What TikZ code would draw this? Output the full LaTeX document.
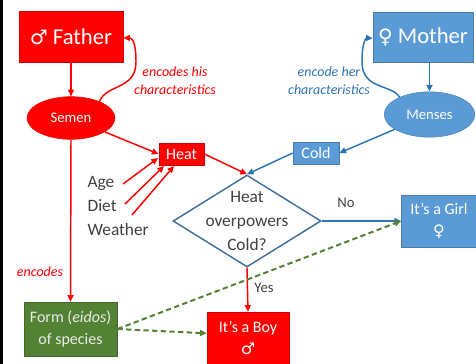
\documentclass[tikz,border=0pt]{standalone}
\usepackage{fontspec}
\setmainfont{Carlito}
\newfontfamily\symfont{DejaVu Sans}
\usetikzlibrary{arrows.meta,shapes.geometric,calc}
\definecolor{fred}{HTML}{FF0000}
\definecolor{mblue}{HTML}{5B9BD5}
\definecolor{dblue}{HTML}{2E75B6}
\definecolor{dborder}{HTML}{41719C}
\definecolor{fgreen}{HTML}{548235}
\definecolor{txt}{HTML}{404040}
\tikzset{
  tip/.style={-{Triangle[length=5pt,width=4.5pt]}},
  redbox/.style={draw=fred!80!black, line width=0.4pt, fill=fred, text=white, inner sep=0pt, align=center},
  bluebox/.style={draw=mblue!80!black, line width=0.4pt, fill=mblue, text=white, inner sep=0pt, align=center},
  greenbox/.style={draw=fgreen!80!black, line width=0.4pt, fill=fgreen, text=white!92!black, inner sep=0pt, align=center},
  redline/.style={tip, draw=fred, line width=1.1pt},
  blueline/.style={tip, draw=dblue, line width=1.1pt},
  greenline/.style={tip, draw=fgreen, line width=1.5pt, dash pattern=on 4pt off 2.5pt},
  lab/.style={text=txt, inner sep=1pt},
}
\begin{document}
\begin{tikzpicture}[x=0.75pt,y=-0.75pt]
\useasboundingbox (0,0) rectangle (476,364);
\clip (0,0) rectangle (476,364);
\fill[black] (0,0) rectangle (3,364);
% nodes
\node[redbox, minimum width=78pt, minimum height=38pt, font=\fontsize{17}{20}\selectfont] (father) at (71,36.5) {{\symfont\fontsize{15}{18}\selectfont ♂} Father};
\node[bluebox, minimum width=75pt, minimum height=37.5pt, font=\fontsize{17}{20}\selectfont] (mother) at (423,37) {{\symfont\fontsize{15}{18}\selectfont ♀} Mother};
\node[ellipse, fill=fred, draw=fred, text=white, minimum width=66pt, minimum height=32pt, inner sep=0pt, font=\fontsize{11}{13}\selectfont] (semen) at (71,118) {Semen};
\node[ellipse, fill=mblue, draw=mblue!85!black, text=white, minimum width=68pt, minimum height=34pt, inner sep=0pt, font=\fontsize{11}{13}\selectfont] (menses) at (429.5,114.5) {Menses};
\node[redbox, minimum width=34pt, minimum height=16.5pt, font=\fontsize{12}{14}\selectfont] (heat) at (181.5,154) {Heat};
\node[bluebox, minimum width=34.5pt, minimum height=16.5pt, font=\fontsize{12}{14}\selectfont] (cold) at (316,153) {Cold};
\node[diamond, draw=dborder, line width=1.1pt, fill=white, minimum width=111pt, minimum height=69pt, inner sep=0pt] (dec) at (247,221) {};
\node[text=txt, align=center, inner sep=0pt, font=\fontsize{13}{18}\selectfont] (dectext) at (247,221) {Heat\\overpowers\\Cold?};
\node[bluebox, minimum width=56.5pt, minimum height=39pt, font=\fontsize{12}{17}\selectfont] (girl) at (439,221) {It’s a Girl\\{\symfont\fontsize{12}{14}\selectfont ♀}};
\node[redbox, minimum width=61.5pt, minimum height=39pt, font=\fontsize{12}{17}\selectfont] (boy) at (248,338) {It’s a Boy\\{\symfont\fontsize{12}{14}\selectfont ♂}};
\node[greenbox, minimum width=70pt, minimum height=40.5pt, font=\fontsize{12}{16}\selectfont] (form) at (70.5,329) {Form (\textit{eidos})\\of species};
% text labels
\node[lab, anchor=west, font=\fontsize{13}{15}\selectfont] (age) at (86,183) {Age};
\node[lab, anchor=west, font=\fontsize{13}{15}\selectfont] (diet) at (86,206) {Diet};
\node[lab, anchor=west, font=\fontsize{13}{15}\selectfont] (weather) at (86,230) {Weather};
\node[text=fred, align=center, font=\itshape\fontsize{10.5}{13.5}\selectfont] (enchis) at (175,81) {encodes his\\characteristics};
\node[text=dblue, align=center, font=\itshape\fontsize{10.5}{13.5}\selectfont] (encher) at (329,81) {encode her\\characteristics};
\node[text=fred, font=\itshape\fontsize{10.5}{13}\selectfont] (enc) at (40,272) {encodes};
\node[lab, font=\fontsize{11}{13}\selectfont] (no) at (346,203) {No};
\node[lab, font=\fontsize{11}{13}\selectfont] (yes) at (264,288) {Yes};
% coordinates for free ends
\coordinate (a1) at (123,184);
\coordinate (a2) at (125,204);
\coordinate (a3) at (132,215);
\coordinate (h1) at (158,158);
\coordinate (h2) at (164,166);
\coordinate (h3) at (174,166);
% connectors
\draw[redline] (father.south) -- (semen.north);
\draw[blueline] (mother.south -| menses.north) -- (menses.north);
\draw[redline] (semen.30) .. controls (106,84) and (136,90) .. (136,62) .. controls (136,42) and (132,38) .. ([yshift=-1pt]father.east);
\draw[blueline] (menses.150) .. controls (392,84) and (362,90) .. (362,62) .. controls (362,42) and (366,38) .. ([yshift=-1pt]mother.west);
\draw[redline] (semen) -- (heat.west);
\draw[blueline] (menses) -- (cold.east);
\draw[redline] (heat.east) -- (dec.north);
\draw[blueline] (cold.west) -- (dec.north);
\draw[redline] (a1) -- (h1);
\draw[redline] (a2) -- (h2);
\draw[redline] (a3) -- (h3);
\draw[redline] (semen.south) -- (form.north);
\draw[blueline] (dec.east) -- (girl.west);
\draw[redline] (dec.south) -- (boy.north);
\draw[greenline] (form.east) -- (girl.west);
\draw[greenline] (form.east) -- ([yshift=3.5pt]boy.west);
\end{tikzpicture}
\end{document}
